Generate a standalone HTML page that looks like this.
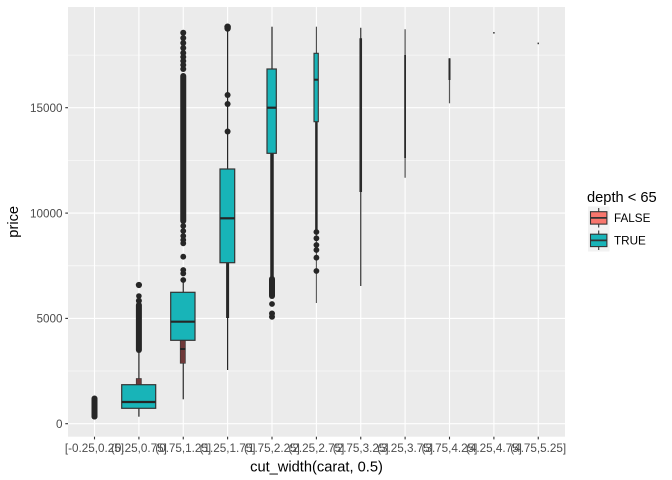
<!DOCTYPE html>
<html><head><meta charset="utf-8"><style>
html,body{margin:0;padding:0;background:#fff;}
svg{display:block;font-family:"Liberation Sans",Arial,sans-serif;}
</style></head><body>
<svg width="672" height="480" viewBox="0 0 672 480" xmlns="http://www.w3.org/2000/svg">
<rect width="672" height="480" fill="#fff"/>
<!-- panel -->
<rect x="68" y="7" width="497" height="429.7" fill="#EBEBEB"/>
<!-- minor grid -->
<g stroke="#fff" stroke-width="0.55">
<line x1="68" x2="565" y1="371.0" y2="371.0"/>
<line x1="68" x2="565" y1="265.8" y2="265.8"/>
<line x1="68" x2="565" y1="160.4" y2="160.4"/>
<line x1="68" x2="565" y1="55.1" y2="55.1"/>
</g>
<!-- major grid -->
<g stroke="#fff" stroke-width="1.1">
<line x1="68" x2="565" y1="423.7" y2="423.7"/>
<line x1="68" x2="565" y1="318.4" y2="318.4"/>
<line x1="68" x2="565" y1="213.1" y2="213.1"/>
<line x1="68" x2="565" y1="107.7" y2="107.7"/>
<line y1="7" y2="436.7" x1="94.5" x2="94.5"/>
<line y1="7" y2="436.7" x1="138.9" x2="138.9"/>
<line y1="7" y2="436.7" x1="183.25" x2="183.25"/>
<line y1="7" y2="436.7" x1="227.6" x2="227.6"/>
<line y1="7" y2="436.7" x1="272" x2="272"/>
<line y1="7" y2="436.7" x1="316.4" x2="316.4"/>
<line y1="7" y2="436.7" x1="360.75" x2="360.75"/>
<line y1="7" y2="436.7" x1="405.1" x2="405.1"/>
<line y1="7" y2="436.7" x1="449.5" x2="449.5"/>
<line y1="7" y2="436.7" x1="493.9" x2="493.9"/>
<line y1="7" y2="436.7" x1="538.25" x2="538.25"/>
</g>

<!-- G1 -->
<g fill="#262626" stroke="none">
<line x1="94.5" x2="94.5" y1="399" y2="416.5" stroke="#262626" stroke-width="6" stroke-linecap="round"/>
<circle cx="94.5" cy="398.5" r="3"/><circle cx="94.5" cy="416.5" r="3"/>
</g>

<!-- G2 -->
<g>
<line x1="138.9" x2="138.9" y1="351.7" y2="384.7" stroke="#262626" stroke-width="1.2"/>
<line x1="138.9" x2="138.9" y1="408.3" y2="416.7" stroke="#262626" stroke-width="1.2"/>
<rect x="136.2" y="378.5" width="5.2" height="6.5" fill="#6e3838" stroke="#333" stroke-width="0.6"/>
<rect x="121.7" y="384.7" width="34" height="23.6" fill="#18B4B8" stroke="#333" stroke-width="1.2"/>
<line x1="121.7" x2="155.7" y1="402" y2="402" stroke="#262626" stroke-width="2.2"/>
<line x1="138.9" x2="138.9" y1="305" y2="350" stroke="#262626" stroke-width="6" stroke-linecap="round"/>
<g fill="#262626"><circle cx="138.9" cy="285" r="3.1"/><circle cx="138.9" cy="300.7" r="3"/><circle cx="138.9" cy="296" r="2.8"/></g>
</g>

<!-- G3 -->
<g>
<line x1="183.25" x2="183.25" y1="282" y2="292.3" stroke="#262626" stroke-width="1.2"/>
<line x1="183.25" x2="183.25" y1="363" y2="399.3" stroke="#262626" stroke-width="1.2"/>
<rect x="180.2" y="340.3" width="5.2" height="23" fill="#6e3838" stroke="#333" stroke-width="0.6"/>
<line x1="180.2" x2="185.4" y1="349" y2="349" stroke="#222" stroke-width="2"/>
<rect x="170.7" y="292.3" width="24.3" height="48" fill="#18B4B8" stroke="#333" stroke-width="1.2"/>
<line x1="170.7" x2="195" y1="321.7" y2="321.7" stroke="#262626" stroke-width="2.2"/>
<line x1="183.25" x2="183.25" y1="76" y2="221" stroke="#262626" stroke-width="6" stroke-linecap="round"/>
<g fill="#262626">
<circle cx="183.25" cy="32.7" r="3"/><circle cx="183.25" cy="38" r="3"/><circle cx="183.25" cy="43" r="3"/>
<circle cx="183.25" cy="48" r="3"/><circle cx="183.25" cy="53" r="3"/><circle cx="183.25" cy="57" r="3"/>
<circle cx="183.25" cy="61" r="3"/><circle cx="183.25" cy="65" r="3"/><circle cx="183.25" cy="69" r="3"/>
<circle cx="183.25" cy="226" r="2.9"/><circle cx="183.25" cy="231" r="2.9"/><circle cx="183.25" cy="236" r="2.9"/>
<circle cx="183.25" cy="240" r="2.9"/><circle cx="183.25" cy="243.3" r="2.9"/><circle cx="183.25" cy="256.7" r="2.9"/>
<circle cx="183.25" cy="270" r="2.9"/><circle cx="183.25" cy="273.5" r="2.9"/><circle cx="183.25" cy="280" r="2.9"/>
</g>
</g>

<!-- G4 -->
<g>
<line x1="227.6" x2="227.6" y1="27.3" y2="169" stroke="#262626" stroke-width="1.2"/>
<line x1="227.6" x2="227.6" y1="262.7" y2="318" stroke="#262626" stroke-width="3"/>
<line x1="227.6" x2="227.6" y1="318" y2="370" stroke="#262626" stroke-width="1.2"/>
<rect x="220" y="169" width="14.7" height="93.7" fill="#18B4B8" stroke="#333" stroke-width="1.2"/>
<line x1="220" x2="234.7" y1="218.3" y2="218.3" stroke="#262626" stroke-width="2.2"/>
<g fill="#262626">
<circle cx="227.6" cy="26.8" r="3.3"/><circle cx="227.6" cy="28.5" r="3.2"/>
<circle cx="227.6" cy="95" r="3"/><circle cx="227.6" cy="104" r="3"/><circle cx="227.6" cy="131.5" r="3"/>
</g>
</g>

<!-- G5 -->
<g>
<line x1="272" x2="272" y1="26.7" y2="69" stroke="#262626" stroke-width="1.2"/>
<line x1="272" x2="272" y1="153.3" y2="278" stroke="#262626" stroke-width="3.5"/>
<rect x="267" y="69" width="9.3" height="84.3" fill="#18B4B8" stroke="#333" stroke-width="1.2"/>
<line x1="267" x2="276.3" y1="107.7" y2="107.7" stroke="#262626" stroke-width="2.2"/>
<line x1="272" x2="272" y1="279" y2="296" stroke="#262626" stroke-width="6" stroke-linecap="round"/>
<g fill="#262626">
<circle cx="272" cy="304" r="2.9"/><circle cx="272" cy="313.5" r="3"/><circle cx="272" cy="316.7" r="3"/>
</g>
</g>

<!-- G6 -->
<g>
<line x1="316.4" x2="316.4" y1="26.7" y2="53.3" stroke="#444" stroke-width="1.1"/>
<line x1="316.4" x2="316.4" y1="121.7" y2="232" stroke="#262626" stroke-width="2.5"/>
<line x1="316.4" x2="316.4" y1="232" y2="303" stroke="#555" stroke-width="1.1"/>
<rect x="314" y="53.3" width="4.3" height="68.4" fill="#18B4B8" stroke="#333" stroke-width="1.1"/>
<line x1="314" x2="318.3" y1="79.7" y2="79.7" stroke="#262626" stroke-width="2"/>
<g fill="#262626">
<circle cx="316.4" cy="232" r="2.9"/><circle cx="316.4" cy="238.3" r="2.9"/><circle cx="316.4" cy="245" r="2.9"/>
<circle cx="316.4" cy="250" r="2.9"/><circle cx="316.4" cy="257.7" r="2.9"/><circle cx="316.4" cy="271" r="2.9"/>
</g>
</g>

<!-- G7 -->
<line x1="360.75" x2="360.75" y1="27.7" y2="286" stroke="#333" stroke-width="1.2"/>
<line x1="360.75" x2="360.75" y1="38.3" y2="192" stroke="#2a2a2a" stroke-width="2.6"/>
<!-- G8 -->
<line x1="405.1" x2="405.1" y1="29.3" y2="177.7" stroke="#444" stroke-width="1.1"/>
<line x1="405.1" x2="405.1" y1="55" y2="158" stroke="#2a2a2a" stroke-width="1.8"/>
<!-- G9 -->
<line x1="449.5" x2="449.5" y1="58.3" y2="103.3" stroke="#555" stroke-width="1.2"/>
<line x1="449.5" x2="449.5" y1="58.3" y2="80" stroke="#2a2a2a" stroke-width="2"/>
<!-- G10/G11 -->
<line x1="493.9" x2="493.9" y1="32" y2="33.6" stroke="#333" stroke-width="1.4"/>
<line x1="538.25" x2="538.25" y1="42.6" y2="44.2" stroke="#333" stroke-width="1.4"/>

<!-- axis ticks -->
<g stroke="#333" stroke-width="1.1">
<line x1="65.3" x2="68" y1="423.7" y2="423.7"/>
<line x1="65.3" x2="68" y1="318.4" y2="318.4"/>
<line x1="65.3" x2="68" y1="213.1" y2="213.1"/>
<line x1="65.3" x2="68" y1="107.7" y2="107.7"/>
<line y1="436.7" y2="439.4" x1="94.5" x2="94.5"/>
<line y1="436.7" y2="439.4" x1="138.9" x2="138.9"/>
<line y1="436.7" y2="439.4" x1="183.25" x2="183.25"/>
<line y1="436.7" y2="439.4" x1="227.6" x2="227.6"/>
<line y1="436.7" y2="439.4" x1="272" x2="272"/>
<line y1="436.7" y2="439.4" x1="316.4" x2="316.4"/>
<line y1="436.7" y2="439.4" x1="360.75" x2="360.75"/>
<line y1="436.7" y2="439.4" x1="405.1" x2="405.1"/>
<line y1="436.7" y2="439.4" x1="449.5" x2="449.5"/>
<line y1="436.7" y2="439.4" x1="493.9" x2="493.9"/>
<line y1="436.7" y2="439.4" x1="538.25" x2="538.25"/>
</g>
<g font-size="11.7" fill="#4D4D4D" text-anchor="end">
<text x="62.5" y="427.9">0</text>
<text x="62.5" y="322.6">5000</text>
<text x="62.5" y="217.3">10000</text>
<text x="62.5" y="111.9">15000</text>
</g>
<g font-size="11.7" fill="#4D4D4D" text-anchor="middle">
<text x="94.5" y="452">[-0.25,0.25]</text>
<text x="138.9" y="452">(0.25,0.75]</text>
<text x="183.25" y="452">(0.75,1.25]</text>
<text x="227.6" y="452">(1.25,1.75]</text>
<text x="272" y="452">(1.75,2.25]</text>
<text x="316.4" y="452">(2.25,2.75]</text>
<text x="360.75" y="452">(2.75,3.25]</text>
<text x="405.1" y="452">(3.25,3.75]</text>
<text x="449.5" y="452">(3.75,4.25]</text>
<text x="493.9" y="452">(4.25,4.75]</text>
<text x="538.25" y="452">(4.75,5.25]</text>
</g>
<text x="316.5" y="471.5" font-size="14.67" fill="#000" text-anchor="middle">cut_width(carat, 0.5)</text>
<text transform="translate(18,221.8) rotate(-90)" font-size="14.67" fill="#000" text-anchor="middle">price</text>

<!-- legend -->
<text x="587" y="202" font-size="14.67" fill="#000">depth &lt; 65</text>
<rect x="588" y="206.5" width="21.5" height="22.5" fill="#F2F2F2"/>
<rect x="588" y="229" width="21.5" height="22.5" fill="#F2F2F2"/>
<g stroke="#333" stroke-width="1.1">
<line x1="598.7" x2="598.7" y1="208" y2="227.5"/>
<rect x="590.5" y="211.7" width="16.4" height="12.4" fill="#F8766D"/>
<line x1="590.5" x2="606.9" y1="217.9" y2="217.9" stroke-width="1.8"/>
<line x1="598.7" x2="598.7" y1="230.5" y2="250"/>
<rect x="590.5" y="234.2" width="16.4" height="12.4" fill="#18B4B8"/>
<line x1="590.5" x2="606.9" y1="240.4" y2="240.4" stroke-width="1.8"/>
</g>
<g font-size="11.7" fill="#000">
<text x="614" y="222">FALSE</text>
<text x="614" y="244.5">TRUE</text>
</g>
</svg>
</body></html>
